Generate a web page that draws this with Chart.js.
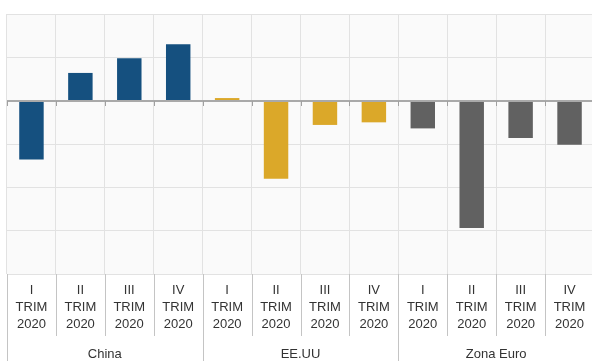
<!DOCTYPE html>
<html>
<head>
<meta charset="utf-8">
<script src="https://cdn.jsdelivr.net/npm/chart.js@4.4.0/dist/chart.umd.min.js"></script>
<style>
  html, body { margin: 0; padding: 0; background: #ffffff; overflow: hidden; }
  #wrap { position: relative; width: 600px; height: 361px; }
</style>
</head>
<body>
<div id="wrap"><canvas id="chart"></canvas></div>
<script>
// Regions and quarters
const groups = ['China', 'EE.UU', 'Zona Euro'];
const quarters = [['I', 'TRIM', '2020'], ['II', 'TRIM', '2020'], ['III', 'TRIM', '2020'], ['IV', 'TRIM', '2020']];

// Year-on-year GDP change (%) per quarter of 2020
const china = [-6.8, 3.2, 4.9, 6.5];
const eeuu = [0.3, -9.0, -2.8, -2.5];
const zonaEuro = [-3.2, -14.7, -4.3, -5.1];

// Value axis range and grid step
const yMin = -20, yMax = 10, yStep = 5;

const groupColors = ['#15507f', '#dba829', '#616161'];

const seriesByGroup = [china, eeuu, zonaEuro];
const labels = [];
const values = [];
const colors = [];
seriesByGroup.forEach((serie, g) => {
  serie.forEach((v, q) => {
    labels.push(quarters[q]);
    values.push(v);
    colors.push(groupColors[g]);
  });
});
const perGroup = quarters.length;

// Plot background, zero line and category separators under the axis
const decorations = {
  id: 'decorations',
  beforeDraw(chart) {
    const { ctx, chartArea: a } = chart;
    ctx.save();
    ctx.fillStyle = '#fafafa';
    ctx.fillRect(a.left, a.top, a.right - a.left, a.bottom - a.top);
    ctx.restore();
  },
  afterDatasetsDraw(chart) {
    const { ctx, chartArea: a, scales } = chart;
    const x = scales.x, y = scales.y;
    const zero = Math.round(y.getPixelForValue(0));
    const half = (x.getPixelForValue(1) - x.getPixelForValue(0)) / 2;
    ctx.save();
    ctx.strokeStyle = '#a9a9a9';
    ctx.lineWidth = 2;
    ctx.beginPath();
    ctx.moveTo(a.left, zero);
    ctx.lineTo(a.right, zero);
    ctx.stroke();
    ctx.lineWidth = 1;
    ctx.strokeStyle = '#a0a0a0';
    for (let i = 0; i <= labels.length; i++) {
      const px = Math.round(x.getPixelForValue(i) - half) + 0.5;
      ctx.beginPath();
      ctx.moveTo(px, zero);
      ctx.lineTo(px, zero + 5);
      ctx.stroke();
    }
    ctx.restore();
  },
  afterDraw(chart) {
    const { ctx, chartArea: a, scales } = chart;
    const x = scales.x, gx = scales.groups;
    const half = (x.getPixelForValue(1) - x.getPixelForValue(0)) / 2;
    ctx.save();
    ctx.strokeStyle = '#c4c4c4';
    ctx.lineWidth = 1;
    for (let i = 0; i <= labels.length; i++) {
      const px = Math.round(x.getPixelForValue(i) - half) + 0.5;
      const isGroupEdge = i % perGroup === 0;
      ctx.beginPath();
      ctx.moveTo(px, a.bottom);
      ctx.lineTo(px, isGroupEdge ? gx.bottom : x.bottom);
      ctx.stroke();
    }
    ctx.restore();
  }
};

new Chart(document.getElementById('chart'), {
  type: 'bar',
  data: {
    labels: labels,
    datasets: [{
      data: values,
      backgroundColor: colors,
      borderWidth: 0,
      barPercentage: 1,
      categoryPercentage: 0.5
    }]
  },
  options: {
    responsive: true,
    maintainAspectRatio: false,
    animation: false,
    layout: { padding: { left: 7, right: 6, top: 14, bottom: 0 } },
    plugins: { legend: { display: false }, tooltip: { enabled: false } },
    scales: {
      x: {
        type: 'category',
        position: 'bottom',
        offset: true,
        grid: { offset: true, color: '#e2e2e2', lineWidth: 1, drawTicks: false },
        border: { display: false },
        ticks: {
          color: '#333333',
          padding: 8,
          maxRotation: 0,
          autoSkip: false,
          font: { family: 'Liberation Sans, Arial, sans-serif', size: 13, lineHeight: '17px' }
        },
        afterFit(s) { s.height = 62; }
      },
      groups: {
        type: 'category',
        position: 'bottom',
        labels: groups,
        offset: true,
        grid: { display: false, drawTicks: false },
        border: { display: false },
        ticks: {
          color: '#333333',
          padding: 10,
          maxRotation: 0,
          autoSkip: false,
          font: { family: 'Liberation Sans, Arial, sans-serif', size: 13, lineHeight: '17px' }
        },
        afterFit(s) { s.height = 25; }
      },
      y: {
        min: yMin,
        max: yMax,
        ticks: { display: false, stepSize: yStep },
        border: { display: false },
        grid: { color: '#e2e2e2', lineWidth: 1, drawTicks: false }
      }
    }
  },
  plugins: [decorations]
});
</script>
</body>
</html>
